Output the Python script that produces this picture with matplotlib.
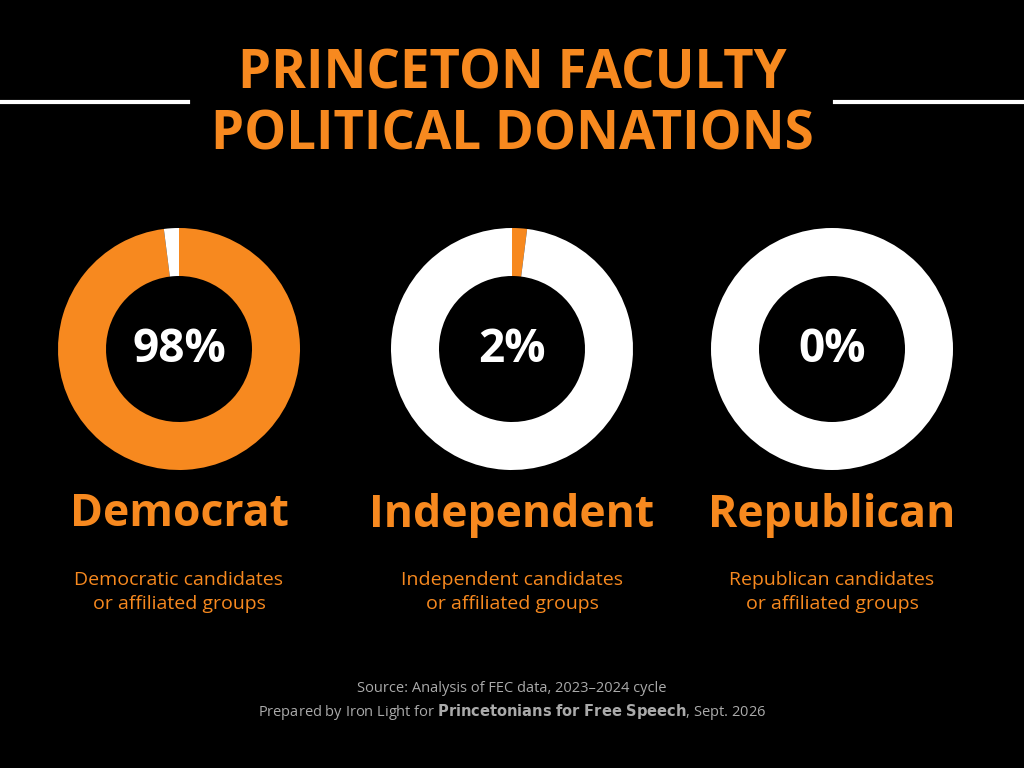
import matplotlib
matplotlib.use("Agg")
import matplotlib.pyplot as plt

categories = ["Democrat", "Independent", "Republican"]
shares = [98, 2, 0]
descriptions = ["Democratic candidates\nor affiliated groups",
                "Independent candidates\nor affiliated groups",
                "Republican candidates\nor affiliated groups"]

ORANGE = "#F7891F"
fig = plt.figure(figsize=(10.24, 7.68), dpi=100, facecolor="black")
ax = fig.add_axes([0, 0, 1, 1])
ax.set_facecolor("black")
ax.set_xlim(0, 1024); ax.set_ylim(0, 768)
ax.set_aspect("equal"); ax.axis("off")
H = 768
font = "Open Sans"

ax.text(512, H - 105, "PRINCETON FACULTY\nPOLITICAL DONATIONS", ha="center", va="center",
        color=ORANGE, fontsize=38, fontweight="bold", family=font, linespacing=1.15)
ax.plot([0, 188], [H - 102, H - 102], color="white", lw=3)
ax.plot([835, 1024], [H - 102, H - 102], color="white", lw=3)

centers = [179, 512, 832]
for cx, cat, s, d in zip(centers, categories, shares, descriptions):
    vals = [s, 100 - s] if s > 0 else [100]
    cols = [ORANGE, "white"] if s > 0 else ["white"]
    ax.pie(vals, colors=cols, startangle=90, counterclock=False, center=(cx, H - 349),
           radius=121, wedgeprops=dict(width=48, edgecolor="none"), frame=True)
    ax.text(cx, H - 349, f"{s}%", ha="center", va="center", color="white",
            fontsize=33, fontweight="bold", family=font)
    ax.text(cx, H - 515, cat, ha="center", va="center", color=ORANGE,
            fontsize=32, fontweight="bold", family=font)
    ax.text(cx, H - 592, d, ha="center", va="center", color=ORANGE,
            fontsize=14, family=font, linespacing=1.45)

ax.set_xlim(0, 1024); ax.set_ylim(0, 768); ax.axis("off")
ax.text(512, H - 689, "Source: Analysis of FEC data, 2023\u20132024 cycle", ha="center",
        va="center", color="#AAAAAA", fontsize=10.5, family=font)
ax.text(512, H - 712, "Prepared by Iron Light for $\\bf{Princetonians\\ for\\ Free\\ Speech}$, Sept. 2026",
        ha="center", va="center", color="#AAAAAA", fontsize=10.5, family=font)
fig.savefig("out.png", dpi=100, facecolor="black")
